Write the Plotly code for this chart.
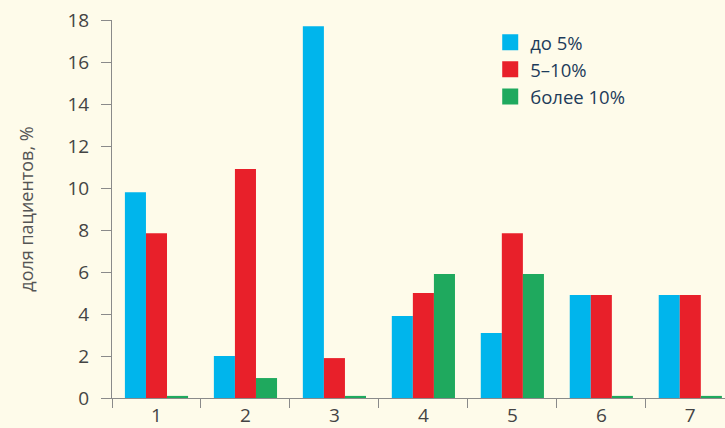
import plotly.graph_objects as go

# Patient share (%) by group, split into three ranges
categories = ["1", "2", "3", "4", "5", "6", "7"]
series_names = ["до 5%", "5–10%", "более 10%"]
upto_5 = [9.8, 2.0, 17.7, 3.9, 3.1, 4.9, 4.9]
from_5_to_10 = [7.85, 10.9, 1.9, 5.0, 7.85, 4.9, 4.9]
over_10 = [0.1, 0.95, 0.1, 5.9, 5.9, 0.1, 0.1]
y_ticks = [0, 2, 4, 6, 8, 10, 12, 14, 16, 18]

colors = ["#00B5EC", "#E8202A", "#1FA95E"]
bg = "#FEFBEA"
font_family = "Open Sans, Noto Sans, DejaVu Sans, sans-serif"

fig = go.Figure()
for name, vals, col in zip(series_names, [upto_5, from_5_to_10, over_10], colors):
    fig.add_trace(go.Bar(
        x=categories, y=vals, name=name, legendgroup=name, showlegend=False,
        marker=dict(color=col, line=dict(width=0)),
    ))
# legend keys drawn as larger squares than the default bar swatch
for name, col in zip(series_names, colors):
    fig.add_trace(go.Scatter(
        x=[None], y=[None], name=name, legendgroup=name, mode="markers",
        marker=dict(symbol="square", size=16, color=col, line=dict(width=0)),
        hoverinfo="skip",
    ))

fig.update_layout(
    width=725, height=428,
    barmode="group", bargap=0.29, bargroupgap=0,
    paper_bgcolor=bg, plot_bgcolor=bg,
    margin=dict(l=112, r=0, t=20, b=30),
    font=dict(family=font_family, size=19, color="#444444"),
    showlegend=True,
    legend=dict(
        x=0.617, y=0.99, xanchor="left", yanchor="top",
        bgcolor="rgba(0,0,0,0)",
        font=dict(size=18.5, color="#1d3b5a"),
        itemwidth=30, tracegroupgap=0,
    ),
    xaxis=dict(
        type="category",
        range=[-0.5, 6.39],
        showline=True, linecolor="#8a8a8a", linewidth=1,
        ticks="outside", tickson="boundaries", ticklen=9,
        tickcolor="#8a8a8a", tickwidth=1,
        showgrid=False, zeroline=False,
        tickfont=dict(size=19, color="#444444"),
    ),
    yaxis=dict(
        range=[0, 18],
        tickvals=y_ticks,
        showline=True, linecolor="#8a8a8a", linewidth=1,
        ticks="outside", ticklen=10, tickcolor="#8a8a8a", tickwidth=1,
        ticklabelstandoff=8,
        showgrid=False, zeroline=False,
        tickfont=dict(size=19, color="#444444"),
        title=dict(text="доля пациентов, %", font=dict(size=18, color="#555555"),
                   standoff=29),
    ),
)

fig.write_html("out.html")
